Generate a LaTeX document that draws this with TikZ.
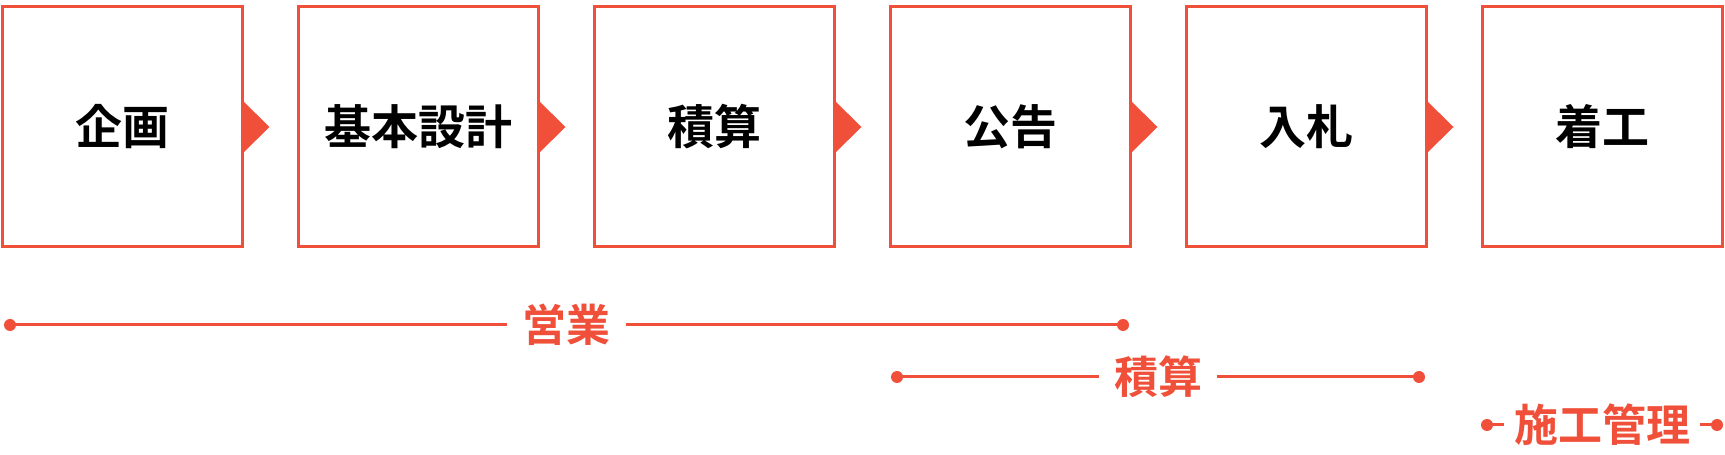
\documentclass[tikz,border=0pt]{standalone}
\usepackage{fontspec}
\newfontfamily\jpfont{Noto Sans CJK JP}[BoldFont={Noto Sans CJK JP Bold}]
\usetikzlibrary{calc}
\definecolor{flowred}{RGB}{240,80,57}

\begin{document}
\begin{tikzpicture}[x=1pt, y=1pt, node distance=296pt,
	stage/.style={draw=flowred, line width=3pt, minimum width=240pt, minimum height=240pt,
		font=\jpfont\bfseries\fontsize{47}{52}\selectfont},
	phase/.style={fill=white, text=flowred, inner xsep=15pt, inner ysep=0pt,
		font=\jpfont\bfseries\fontsize{44}{48}\selectfont},
	span/.style={draw=flowred, line width=3pt}]
	\useasboundingbox (0,0) rectangle (1725,455);

	% Nodes {s1, s2, ..., s6}
	\node [stage] (s1) at (122,328) {企画};
	\node [stage] (s2) [right of=s1] {基本設計};
	\node [stage] (s3) [right of=s2] {積算};
	\node [stage] (s4) [right of=s3] {公告};
	\node [stage] (s5) [right of=s4] {入札};
	\node [stage] (s6) [right of=s5] {着工};

	% Arrow heads
	\foreach \n in {1,...,5}
		\fill [flowred] (s\n.east) ++(0,25.5) -- ++(26,-25.5) -- ++(-26,-25.5) -- cycle;

	% Phases {p1, p2, p3}
	\coordinate (a1) at (10,130);
	\coordinate (b1) at (1123,130);
	\coordinate (a2) at (897,78);
	\coordinate (b2) at (1419,78);
	\coordinate (a3) at (1487,30);
	\coordinate (b3) at (1717,30);

	\node [phase] (p1) at ($(a1)!0.5!(b1)$) {営業};
	\node [phase] (p2) at ($(a2)!0.5!(b2)$) {積算};
	\node [phase, inner xsep=10pt] (p3) at ($(a3)!0.5!(b3)$) {施工管理};

	% Paths
	\draw [span] (a1) -- (p1) -- (b1);
	\draw [span] (a2) -- (p2) -- (b2);
	\draw [span] (a3) -- (p3) -- (b3);
	\foreach \n in {1,2,3}
		\fill [flowred] (a\n) circle (6pt) (b\n) circle (6pt);

\end{tikzpicture}
\end{document}
